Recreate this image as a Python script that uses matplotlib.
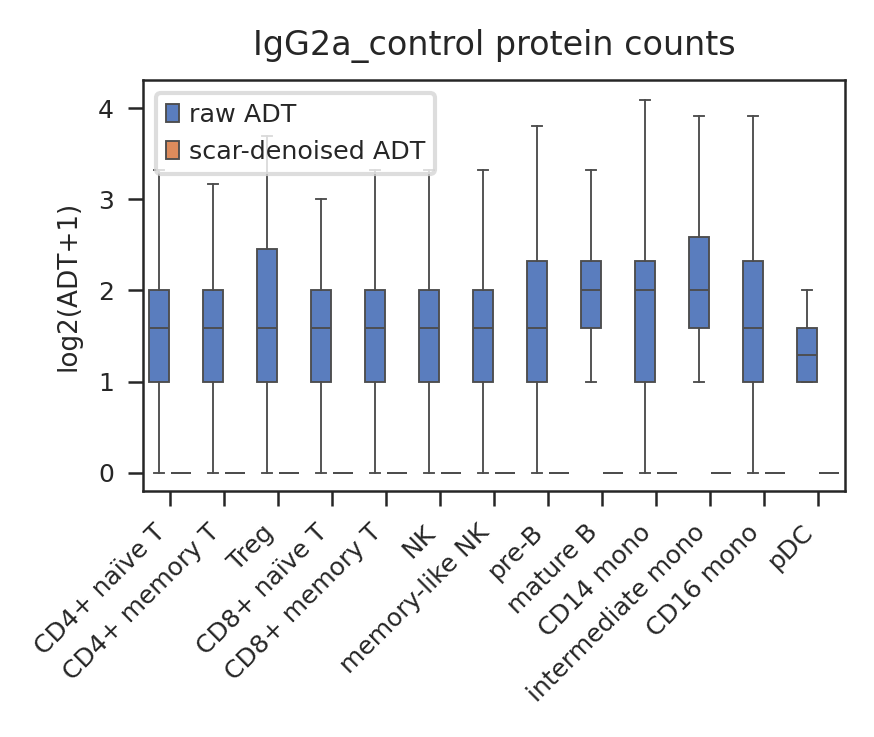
import matplotlib
matplotlib.use("Agg")
import matplotlib.pyplot as plt
from matplotlib.patches import Patch
import numpy as np

# cell types on the x axis
cell_types = ["CD4+ naïve T", "CD4+ memory T", "Treg", "CD8+ naïve T", "CD8+ memory T",
              "NK", "memory-like NK", "pre-B", "mature B", "CD14 mono",
              "intermediate mono", "CD16 mono", "pDC"]

# raw ADT box stats (log2(ADT+1))
raw_whislo = [0, 0, 0, 0, 0, 0, 0, 0, 1.0, 0, 1.0, 0, 1.0]
raw_q1 = [1, 1, 1, 1, 1, 1, 1, 1, 1.585, 1, 1.585, 1, 1]
raw_med = [1.585, 1.585, 1.585, 1.585, 1.585, 1.585, 1.585, 1.585, 2.0, 2.0, 2.0, 1.585, 1.29]
raw_q3 = [2, 2, 2.46, 2, 2, 2, 2, 2.32, 2.32, 2.32, 2.585, 2.32, 1.585]
raw_whishi = [3.32, 3.17, 3.70, 3.0, 3.32, 3.32, 3.32, 3.81, 3.32, 4.09, 3.91, 3.91, 2.0]

# scar-denoised ADT box stats (all zero)
den_whislo = [0] * 13
den_q1 = [0] * 13
den_med = [0] * 13
den_q3 = [0] * 13
den_whishi = [0] * 13

blue = "#5a7dbe"
orange = "#dc8b5c"
linec = "#4d4d4d"

plt.rcParams["font.family"] = "DejaVu Sans"

fig = plt.figure(figsize=(874 / 300, 737 / 300), dpi=300)
ax = fig.add_axes([0.1636, 0.3338, 0.8032, 0.5577])


def make_stats(lo, q1, med, q3, hi):
    return [dict(whislo=a, q1=b, med=c, q3=d, whishi=e, fliers=[])
            for a, b, c, d, e in zip(lo, q1, med, q3, hi)]


x = np.arange(len(cell_types))
lw = 0.45
common = dict(widths=0.38, patch_artist=True, showfliers=False, manage_ticks=False,
              whiskerprops=dict(color=linec, lw=lw),
              capprops=dict(color=linec, lw=lw),
              medianprops=dict(color=linec, lw=lw))

ax.bxp(make_stats(raw_whislo, raw_q1, raw_med, raw_q3, raw_whishi), positions=x - 0.2,
       boxprops=dict(facecolor=blue, edgecolor=linec, lw=lw), **common)
ax.bxp(make_stats(den_whislo, den_q1, den_med, den_q3, den_whishi), positions=x + 0.2,
       boxprops=dict(facecolor=orange, edgecolor=linec, lw=lw), **common)

ax.set_xlim(-0.5, len(cell_types) - 0.5)
ax.set_ylim(-0.2, 4.31)
ax.set_xticks(x)
ax.set_xticklabels(cell_types, rotation=45, ha="right", fontsize=6.0, color="#262626")
ax.set_yticks([0, 1, 2, 3, 4])
ax.tick_params(axis="y", labelsize=6, colors="#262626")
ax.tick_params(axis="both", length=3.5, width=0.6, color="#262626")
for s in ax.spines.values():
    s.set_linewidth(0.6)
    s.set_color("#262626")

ax.set_ylabel("log2(ADT+1)", fontsize=6.3, color="#262626")
ax.set_title("IgG2a_control protein counts", fontsize=8.0, color="#262626")

handles = [Patch(facecolor=blue, edgecolor=linec, lw=lw, label="raw ADT"),
           Patch(facecolor=orange, edgecolor=linec, lw=lw, label="scar-denoised ADT")]
leg = ax.legend(handles=handles, loc="upper left", fontsize=6.1, handlelength=0.5,
                handletextpad=0.4, labelcolor="#262626")
leg.get_frame().set_edgecolor("#d5d5d5")
leg.get_frame().set_linewidth(1.0)

fig.savefig("out.png", dpi=300)
